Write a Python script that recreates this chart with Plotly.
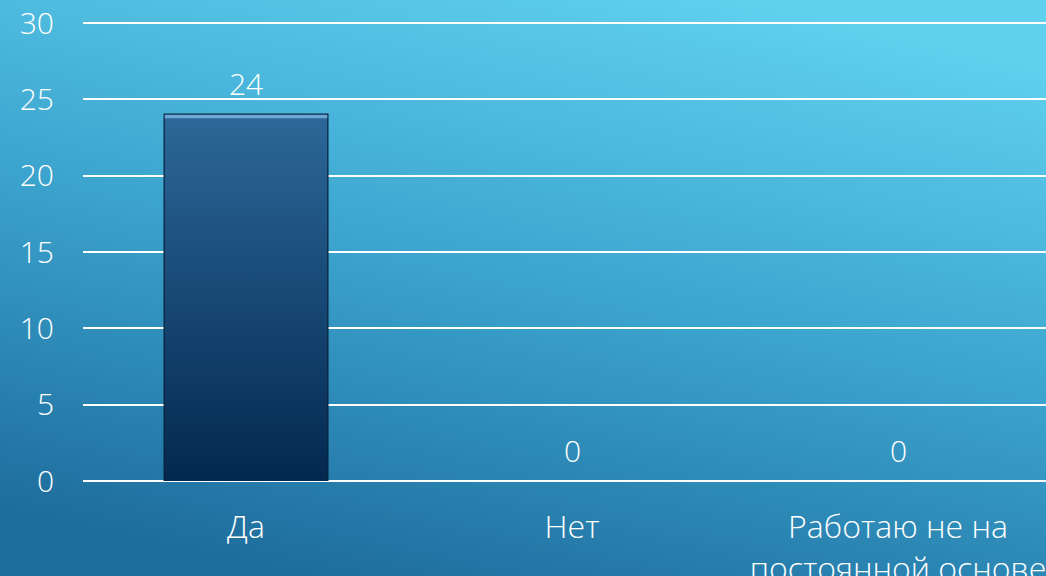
import base64
import plotly.graph_objects as go

categories = ["Да", "Нет", "Работаю не на<br>постоянной основе"]
values = [24, 0, 0]
y_ticks = [0, 5, 10, 15, 20, 25, 30]

FONT = "'Open Sans', Lato, sans-serif"
W, H = 1046, 576
ML, MR, MT, MB = 83, 0, 21, 95
PW, PH = W - ML - MR, H - MT - MB
Y_TOP = 30 * PH / 458  # keeps 30 at the same pixel row while the top gridline stays visible

bg_svg = """<svg xmlns='http://www.w3.org/2000/svg' width='1046' height='576' preserveAspectRatio='none'>
<defs><linearGradient id='g' x1='0.3' y1='1' x2='0.7' y2='0'>
<stop offset='0' stop-color='#1e6d9d'/>
<stop offset='0.5' stop-color='#3ba3cd'/>
<stop offset='1' stop-color='#5fd0ee'/>
</linearGradient></defs>
<rect width='1046' height='576' fill='url(#g)'/></svg>"""
bg_uri = "data:image/svg+xml;base64," + base64.b64encode(bg_svg.encode()).decode()

bar_svg = """<svg xmlns='http://www.w3.org/2000/svg' width='100' height='100' preserveAspectRatio='none'>
<defs><linearGradient id='b' x1='0' y1='0' x2='0' y2='1'>
<stop offset='0' stop-color='#2c6899'/>
<stop offset='1' stop-color='#03284f'/>
</linearGradient></defs>
<rect width='100' height='100' fill='url(#b)'/>
<rect x='0' y='0' width='100' height='1.0' fill='#6fa6d6'/></svg>"""
bar_uri = "data:image/svg+xml;base64," + base64.b64encode(bar_svg.encode()).decode()

bar_width = 0.5

fig = go.Figure()
fig.add_trace(go.Bar(
    x=list(range(len(categories))), y=values, width=bar_width,
    marker=dict(color="#1a4573",
                line=dict(color="#08233f", width=[2 if v > 0 else 0 for v in values])),
    hoverinfo="skip",
))

images = [dict(source=bg_uri, xref="paper", yref="paper", x=-ML / PW, y=1 + MT / PH,
               sizex=W / PW, sizey=H / PH, sizing="stretch", layer="below",
               xanchor="left", yanchor="top")]
for i, v in enumerate(values):
    if v > 0:
        images.append(dict(source=bar_uri, xref="x", yref="y", x=i - bar_width / 2, y=v,
                           sizex=bar_width, sizey=v, sizing="stretch", layer="above",
                           xanchor="left", yanchor="top"))

annotations = [dict(x=i, y=v, text=str(v), showarrow=False, xref="x", yref="y",
                    yanchor="middle", yshift=31,
                    font=dict(family=FONT, size=30, color="white", weight=300))
               for i, v in enumerate(values)]

fig.update_layout(
    width=W, height=H,
    margin=dict(l=ML, r=MR, t=MT, b=MB, autoexpand=False),
    paper_bgcolor="#1f6e9e", plot_bgcolor="rgba(0,0,0,0)",
    images=images, annotations=annotations,
    showlegend=False,
    font=dict(family=FONT, color="white", size=30, weight=300),
    xaxis=dict(range=[-0.5, -0.5 + PW / 326], tickmode="array",
               tickvals=list(range(len(categories))),
               ticktext=categories, showgrid=False, zeroline=False, showline=False,
               ticks="", ticklabelstandoff=24, ticklabeloverflow="allow", automargin=False,
               tickfont=dict(family=FONT, size=32, color="white", weight=300)),
    yaxis=dict(range=[0, Y_TOP], tickvals=y_ticks, showgrid=True, gridcolor="white", gridwidth=2,
               zeroline=True, zerolinecolor="white", zerolinewidth=2, showline=False,
               ticks="", ticklabelstandoff=28, ticklabeloverflow="allow", automargin=False,
               tickfont=dict(family=FONT, size=30, color="white", weight=300)),
)

fig.write_html("out.html", config={"displayModeBar": False},
               post_script="document.body.style.margin='0';")
